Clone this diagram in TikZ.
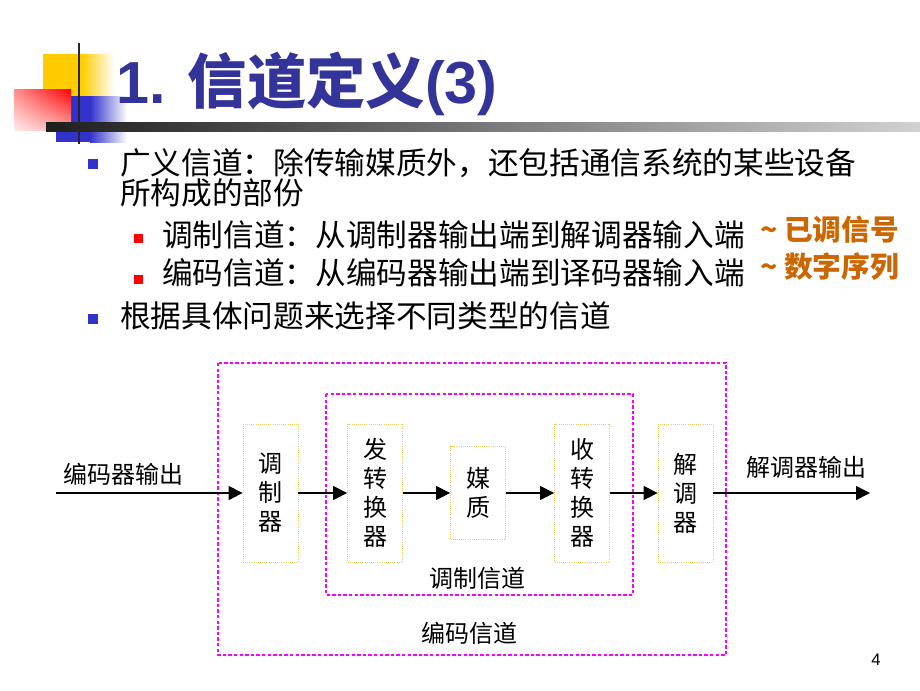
\documentclass[tikz,border=0pt]{standalone}
\usepackage{fontspec}
\setmainfont{Liberation Sans}
\newfontfamily\cjk{Noto Sans CJK SC}
\usepackage{tikz}
\usetikzlibrary{arrows.meta,shadings}

\definecolor{titleblue}{RGB}{51,51,153}
\definecolor{bulletblue}{RGB}{51,51,204}
\definecolor{decoyellow}{RGB}{255,204,0}
\definecolor{noteorange}{RGB}{204,102,0}
\definecolor{boxedge}{RGB}{240,200,100}
\definecolor{chanpink}{RGB}{255,0,255}

\begin{document}
\begin{tikzpicture}[x=0.75pt,y=0.75pt,yscale=-1,xscale=1,
  blk/.style={draw=boxedge,densely dotted,line width=0.6pt,inner sep=0pt,minimum width=41.25pt,minimum height=103.5pt,align=center,font=\cjk\fontsize{18}{21.75}\selectfont},
  lbl/.style={inner sep=0.75pt,font=\cjk\fontsize{18}{21.75}\selectfont},
  chanbox/.style={draw=chanpink,line width=1.1pt,dash pattern={on 2.6pt off 1.6pt}},
  sig/.style={line width=1pt,-{Triangle[length=10.5pt,width=10.5pt]}},
  txt/.style={anchor=west,inner sep=0pt,font=\cjk\fontsize{23}{28}\selectfont},
  note/.style={anchor=west,inner sep=0pt,text=noteorange,font=\cjk\bfseries\fontsize{21.5}{25}\selectfont},
  bluebul/.style={fill=bulletblue,inner sep=0pt,minimum size=7.5pt},
  redbul/.style={fill=red,inner sep=0pt,minimum size=6.75pt}
]
\useasboundingbox (0,0) rectangle (920,690);

%Decoration: squares
\fill[decoyellow] (43,54) rectangle (82,97);
\shade[left color=decoyellow,right color=white] (82,54) rectangle (114,97);
\fill[bulletblue] (56,96) rectangle (90,142);
\shade[left color=bulletblue,right color=white] (90,96) rectangle (127,142);
\shade[upper right=red,upper left=red!45!white,lower left=red!8!white,lower right=red!35!white] (14,89) rectangle (71,130);
%Decoration: bars
\shade[left color=black!88,right color=black!18] (46,122) rectangle (920,131);
\draw[line width=2.2pt,black!85] (79,43) -- (79,144);

% Title
\node (title) [anchor=base west,inner sep=0pt,text=titleblue,font=\bfseries\fontsize{44.5}{52}\selectfont] at (116,103) {1. {\cjk 信道定义}(3)};

% Bullets
\node (b1) [bluebul] at (93,164) {};
\node (t1) [txt] at (120,163) {广义信道：除传输媒质外，还包括通信系统的某些设备};
\node (t1b) [txt] at (120,193) {所构成的部份};
\node (s1) [redbul] at (138,238.5) {};
\node (t2) [txt] at (162,235) {调制信道：从调制器输出端到解调器输入端};
\node (n2) [note] at (760,230) {\textasciitilde{} 已调信号};
\node (s2) [redbul] at (138,279.5) {};
\node (t3) [txt] at (162,273) {编码信道：从编码器输出端到译码器输入端};
\node (n3) [note] at (760,267) {\textasciitilde{} 数字序列};
\node (b2) [bluebul] at (93,319) {};
\node (t4) [txt] at (120,316) {根据具体问题来选择不同类型的信道};

% Channels
\draw[chanbox] (218,363) rectangle (726,655);
\draw[chanbox] (326,394) rectangle (633,595);
\node (codlbl) [lbl] at (469,633) {编码信道};
\node (modlbl) [lbl] at (477,578) {调制信道};

% Blocks
\node (mod) [blk] at (270.5,493) {调\\制\\器};
\node (txc) [blk] at (375,493) {发\\转\\换\\器};
\node (med) [blk,minimum height=69.75pt] at (478,493) {媒\\质};
\node (rxc) [blk] at (582,493) {收\\转\\换\\器};
\node (dem) [blk] at (685.5,493) {解\\调\\器};

\coordinate (in) at (56,493);
\coordinate (out) at (870,493);
\node (inlbl) [lbl] at (123,474) {编码器输出};
\node (outlbl) [lbl] at (806,467) {解调器输出};

% Signal path
\draw[sig] (in) -- (mod);
\draw[sig] (mod) -- (txc);
\draw[sig] (txc) -- (med);
\draw[sig] (med) -- (rxc);
\draw[sig] (rxc) -- (dem);
\draw[sig] (dem) -- (out);

% Page number
\node (pg) [inner sep=0pt,font=\fontsize{12.5}{15}\selectfont] at (876,660) {4};

\end{tikzpicture}
\end{document}
